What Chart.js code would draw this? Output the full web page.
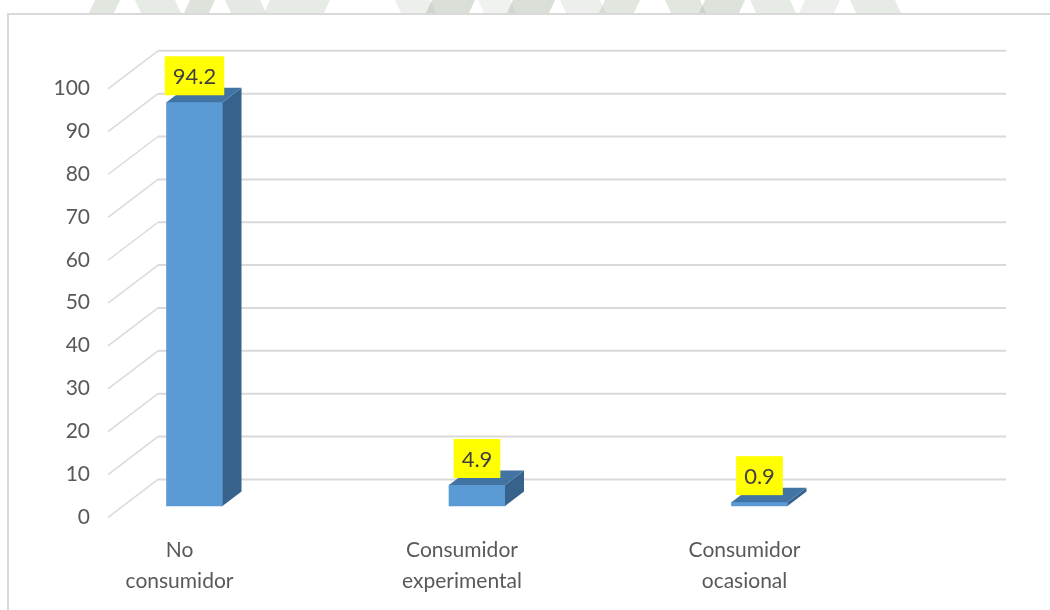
<!DOCTYPE html>
<html>
<head>
<meta charset="utf-8">
<script src="https://cdn.jsdelivr.net/npm/chart.js@4.4.1/dist/chart.umd.min.js"></script>
<style>
  html, body { margin: 0; padding: 0; background: #ffffff; }
  #wrap { width: 1050px; height: 610px; position: relative; }
</style>
</head>
<body>
<div id="wrap"><canvas id="chart" width="1050" height="610"></canvas></div>
<script>
// Categories (two-line labels), values and y-axis ticks
const categories = [["No", "consumidor"], ["Consumidor", "experimental"], ["Consumidor", "ocasional"]];
const percentages = [94.2, 4.9, 0.9];
const valueLabels = ["94.2", "4.9", "0.9"];
const yTickValues = [0, 10, 20, 30, 40, 50, 60, 70, 80, 90, 100];

const FONT = "Lato, 'Liberation Sans', Arial, sans-serif";
const TEXT = "#595959";

// 3D look: full depth of the box (front -> back wall), bar plane sits 30% in
const DEPTH = { dx: 50, dy: -38 };
const BAR_PLANE = 0.3;
const BAR_DEPTH = { dx: 19, dy: -14.5 };

// faint emblem shapes printed across the top margin of the page
const watermark = {
  id: "watermark",
  beforeDraw(chart) {
    const ctx = chart.ctx;
    ctx.save();
    const shapes = [
      [95, 120, 0.35], [135, 175, 0.28], [190, 215, 0.4], [225, 260, 0.3], [270, 330, 0.28],
      [395, 430, 0.22], [432, 475, 0.45], [478, 510, 0.18], [513, 555, 0.45], [560, 600, 0.22],
      [605, 640, 0.35], [665, 700, 0.35], [705, 745, 0.4], [750, 790, 0.28], [805, 840, 0.22],
      [850, 895, 0.28]
    ];
    shapes.forEach(([a, b, o], i) => {
      ctx.fillStyle = `rgba(170,182,164,${o})`;
      const s = (i % 2 ? 6 : -6);
      ctx.beginPath();
      ctx.moveTo(a, 0);
      ctx.lineTo(b, 0);
      ctx.lineTo(b + s, 13);
      ctx.lineTo(a + s, 13);
      ctx.closePath();
      ctx.fill();
    });
    // chart frame
    ctx.strokeStyle = "#d9d9d9";
    ctx.lineWidth = 2;
    ctx.strokeRect(8, 14, 1060, 620);
    ctx.restore();
  }
};

// back wall gridlines and side wall diagonals, derived from the y scale
const walls = {
  id: "walls",
  beforeDatasetsDraw(chart) {
    const { ctx, chartArea, scales } = chart;
    const y = scales.y;
    const backDx = DEPTH.dx * (1 - BAR_PLANE);
    const backDy = DEPTH.dy * (1 - BAR_PLANE);
    const backLeft = chartArea.left - 71.5 + backDx;
    const backRight = chartArea.right + 211.5 + backDx;
    ctx.save();
    y.ticks.forEach(t => {
      const yb = y.getPixelForValue(t.value) + backDy;
      ctx.strokeStyle = "#d9d9d9";
      ctx.lineWidth = 2;
      ctx.beginPath();
      ctx.moveTo(backLeft, yb);
      ctx.lineTo(backRight, yb);
      ctx.stroke();
      ctx.lineWidth = 1.5;
      ctx.strokeStyle = "#dadada";
      ctx.beginPath();
      ctx.moveTo(backLeft, yb);
      ctx.lineTo(backLeft - DEPTH.dx, yb - DEPTH.dy);
      ctx.stroke();
    });
    ctx.restore();
  }
};

// side and top faces of each bar plus yellow value boxes
const bars3d = {
  id: "bars3d",
  afterDatasetsDraw(chart) {
    const ctx = chart.ctx;
    const meta = chart.getDatasetMeta(0);
    ctx.save();
    meta.data.forEach((bar, i) => {
      const { x, y, base, width } = bar.getProps(["x", "y", "base", "width"], true);
      const l = x - width / 2, r = x + width / 2;
      // side face
      ctx.fillStyle = "#37628b";
      ctx.beginPath();
      ctx.moveTo(r, y);
      ctx.lineTo(r + BAR_DEPTH.dx, y + BAR_DEPTH.dy);
      ctx.lineTo(r + BAR_DEPTH.dx, base + BAR_DEPTH.dy);
      ctx.lineTo(r, base);
      ctx.closePath();
      ctx.fill();
      // top face
      ctx.fillStyle = "#4274a3";
      ctx.beginPath();
      ctx.moveTo(l, y);
      ctx.lineTo(l + BAR_DEPTH.dx, y + BAR_DEPTH.dy);
      ctx.lineTo(r + BAR_DEPTH.dx, y + BAR_DEPTH.dy);
      ctx.lineTo(r, y);
      ctx.closePath();
      ctx.fill();

      // value label
      const txt = valueLabels[i];
      ctx.font = `22px ${FONT}`;
      const tw = ctx.measureText(txt).width;
      const bw = tw + 16, bh = 39;
      const bottom = y - 7;
      ctx.fillStyle = "#ffff00";
      ctx.fillRect(x - bw / 2, bottom - bh, bw, bh);
      ctx.fillStyle = "#404040";
      ctx.textAlign = "center";
      ctx.textBaseline = "middle";
      ctx.fillText(txt, x, bottom - bh / 2 + 1);
    });
    ctx.restore();
  }
};

new Chart(document.getElementById("chart"), {
  type: "bar",
  data: {
    labels: categories,
    datasets: [{
      data: percentages,
      backgroundColor: "#5b9bd5",
      borderWidth: 0,
      barThickness: 56,
      clip: false
    }]
  },
  options: {
    responsive: false,
    animation: false,
    devicePixelRatio: 1,
    layout: { padding: { left: 54.5, right: 290.5, top: 77.4, bottom: 12 } },
    plugins: { legend: { display: false }, tooltip: { enabled: false } },
    scales: {
      x: {
        type: "category",
        offset: false,
        grid: { display: false, drawTicks: false },
        border: { display: false },
        afterFit(s) { s.height = 92; s.paddingLeft = 0; s.paddingRight = 0; },
        ticks: {
          padding: 28,
          labelOffset: -15,
          maxRotation: 0,
          autoSkip: false,
          color: TEXT,
          font: { family: FONT, size: 21, lineHeight: 1.5 }
        }
      },
      y: {
        min: 0,
        max: 100,
        afterBuildTicks(s) { s.ticks = yTickValues.map(v => ({ value: v })); },
        afterFit(s) { s.width = 140; s.paddingTop = 0; s.paddingBottom = 0; },
        grid: { display: false, drawTicks: false },
        border: { display: false },
        ticks: {
          padding: 104.5,
          labelOffset: 11,
          color: TEXT,
          font: { family: FONT, size: 21 }
        }
      }
    }
  },
  plugins: [watermark, walls, bars3d]
});
</script>
</body>
</html>
